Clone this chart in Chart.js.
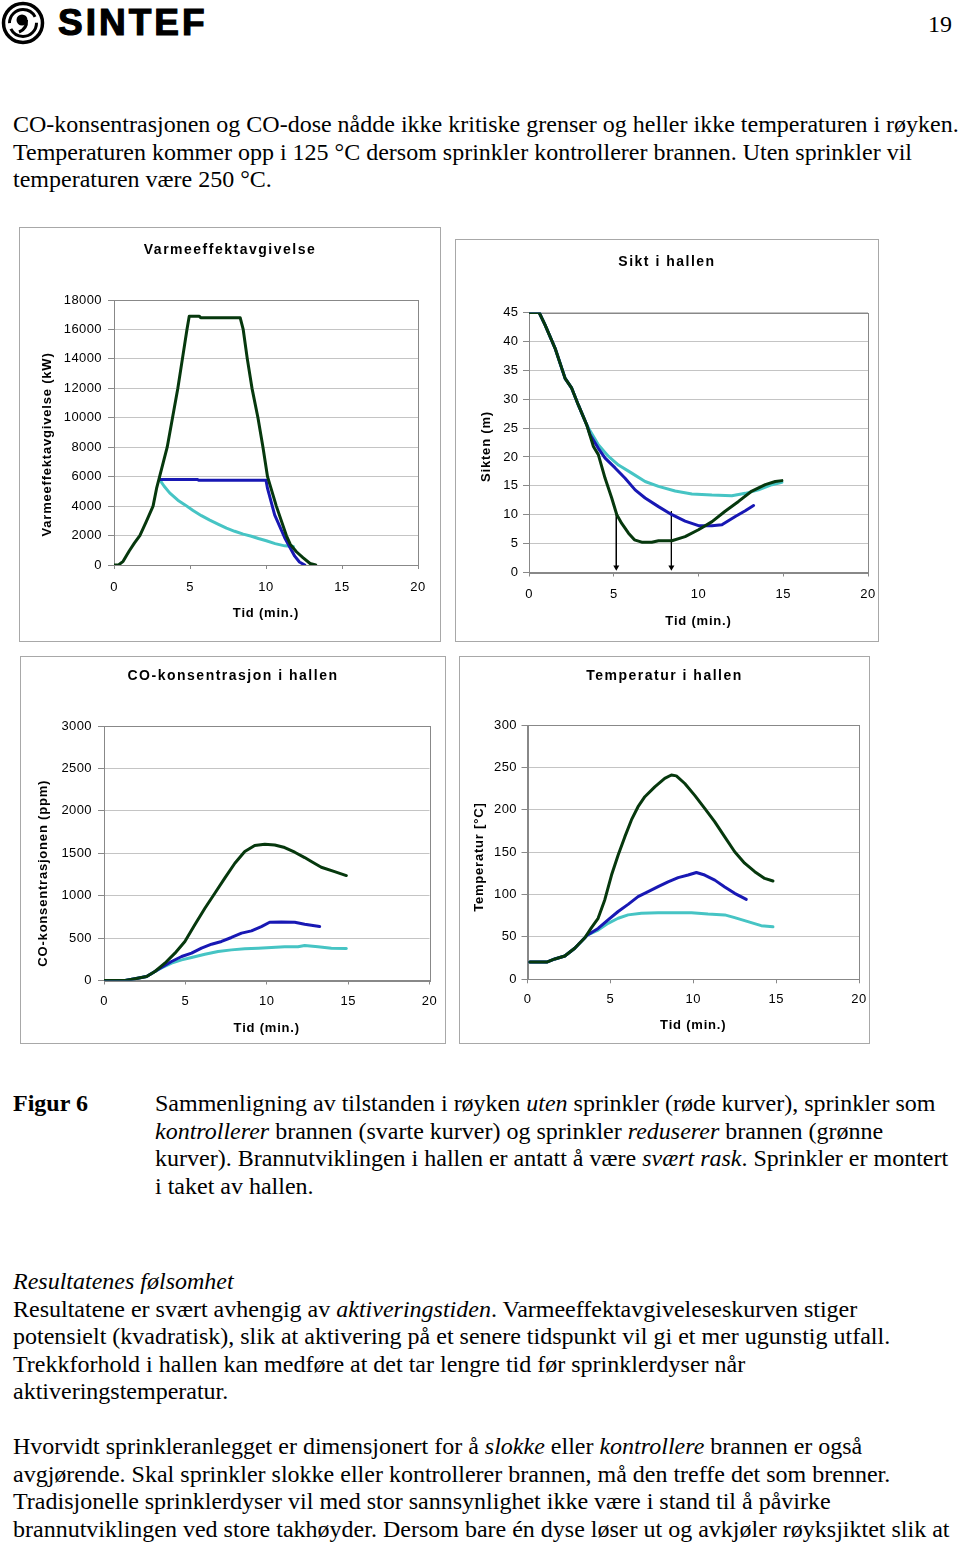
<!DOCTYPE html>
<html lang="no">
<head>
<meta charset="utf-8">
<title>Figur 6 - sprinkler i hallen</title>
<script src="https://cdn.jsdelivr.net/npm/chart.js@4.4.1/dist/chart.umd.min.js"></script>
<style>
  html, body { margin: 0; padding: 0; background: #fff; }
  body { width: 960px; height: 1544px; position: relative; overflow: hidden;
         font-family: "Liberation Serif", "Times New Roman", serif; color: #000; }
  .txt { position: absolute; font-size: 24px; line-height: 27.5px; white-space: nowrap; }
  .boks { position: absolute; border: 1px solid #a8a8a8; box-sizing: border-box; background: #fff; }
  .boks canvas { display: block; }
  #logo svg { position: absolute; left: 0; top: 0; }
  #logo span { position: absolute; left: 58px; top: 4px; font-family: "Liberation Sans", Arial, sans-serif;
               font-weight: bold; font-size: 37px; line-height: 37px; letter-spacing: 3px;
               -webkit-text-stroke: 1.2px #000; }
</style>
</head>
<body>

<div id="logo">
  <svg width="46" height="46" viewBox="0 0 46 46">
    <circle cx="23" cy="23" r="19.5" fill="none" stroke="#000" stroke-width="3.5"/>
    <circle cx="23" cy="23" r="13.5" fill="none" stroke="#000" stroke-width="3" stroke-dasharray="36 6"/>
    <circle cx="22" cy="20" r="5.5" fill="#000"/>
    <path d="M26.5 20 C27 26 24 30 19 32" fill="none" stroke="#000" stroke-width="3"/>
  </svg>
  <span>SINTEF</span>
</div>
<div class="txt" style="left:928px; top:11px;">19</div>

<div class="txt" style="left:13px; top:111px;">
  <div>CO-konsentrasjonen og CO-dose nådde ikke kritiske grenser og heller ikke temperaturen i røyken.</div>
  <div>Temperaturen kommer opp i 125 °C dersom sprinkler kontrollerer brannen. Uten sprinkler vil</div>
  <div>temperaturen være 250 °C.</div>
</div>

<div id="diagrammer"></div>

<div class="txt" style="left:13px; top:1090px; font-weight:bold;">Figur 6</div>
<div class="txt" style="left:155px; top:1090px;">
  <div>Sammenligning av tilstanden i røyken <i>uten</i> sprinkler (røde kurver), sprinkler som</div>
  <div><i>kontrollerer</i> brannen (svarte kurver) og sprinkler <i>reduserer</i> brannen (grønne</div>
  <div>kurver). Brannutviklingen i hallen er antatt å være <i>svært rask</i>. Sprinkler er montert</div>
  <div>i taket av hallen.</div>
</div>

<div class="txt" style="left:13px; top:1268px;">
  <div><i>Resultatenes følsomhet</i></div>
  <div>Resultatene er svært avhengig av <i>aktiveringstiden</i>. Varmeeffektavgiveleseskurven stiger</div>
  <div>potensielt (kvadratisk), slik at aktivering på et senere tidspunkt vil gi et mer ugunstig utfall.</div>
  <div>Trekkforhold i hallen kan medføre at det tar lengre tid før sprinklerdyser når</div>
  <div>aktiveringstemperatur.</div>
  <div>&nbsp;</div>
  <div>Hvorvidt sprinkleranlegget er dimensjonert for å <i>slokke</i> eller <i>kontrollere</i> brannen er også</div>
  <div>avgjørende. Skal sprinkler slokke eller kontrollerer brannen, må den treffe det som brenner.</div>
  <div>Tradisjonelle sprinklerdyser vil med stor sannsynlighet ikke være i stand til å påvirke</div>
  <div>brannutviklingen ved store takhøyder. Dersom bare én dyse løser ut og avkjøler røyksjiktet slik at</div>
</div>

<script>
// ---- data lest av figuren (tid i minutter) ----
const tidTicks = [0, 5, 10, 15, 20];

// Varmeeffektavgivelse (kW)
const varmeTicks = [0, 2000, 4000, 6000, 8000, 10000, 12000, 14000, 16000, 18000];
const varmeUtenT = [0, 0.3, 0.6, 1.0, 1.35, 1.7, 2.1, 2.57, 2.8, 3.0, 3.25, 3.5, 3.85, 4.2, 4.5, 4.8, 4.95, 5.6, 5.7, 8.3, 8.5, 8.77, 9.08, 9.47, 9.8, 10.1, 10.68, 11.34, 11.6, 12.0, 12.43, 12.9, 13.27];
const varmeUtenV = [0, 0, 250, 950, 1500, 2000, 2900, 4000, 5200, 6000, 7000, 8000, 10000, 12000, 14000, 16000, 16900, 16900, 16800, 16800, 16000, 14000, 12000, 10000, 8000, 6000, 4000, 2000, 1400, 900, 500, 100, 0];
const varmeKontrollT = [3.0, 5.5, 5.6, 10.0, 10.1, 10.57, 11.23, 11.89, 12.2, 12.55];
const varmeKontrollV = [5800, 5800, 5750, 5750, 5200, 3400, 1850, 600, 200, 0];
const varmeRedusertT = [3.0, 3.3, 3.66, 4.2, 4.65, 5.2, 5.75, 6.3, 6.84, 7.4, 7.94, 8.5, 9.04, 9.5, 10.02, 10.6, 11.23, 11.8];
const varmeRedusertV = [5800, 5350, 4900, 4400, 4100, 3700, 3350, 3050, 2780, 2500, 2290, 2100, 1950, 1800, 1650, 1450, 1300, 1250];

// Sikt i hallen (m)
const siktTicks = [0, 5, 10, 15, 20, 25, 30, 35, 40, 45];
const siktUtenT = [0, 0.6, 0.94, 1.54, 2.13, 2.52, 2.91, 3.4, 3.8, 4.09, 4.49, 4.88, 5.18, 5.47, 5.87, 6.22, 6.65, 7.24, 7.64, 8.43, 9.21, 10.0, 10.8, 11.57, 12.36, 13.15, 13.94, 14.53, 14.92];
const siktUtenV = [45, 45, 42.9, 38.8, 33.6, 31.9, 29, 25.6, 21.8, 20.4, 16.3, 12.9, 10, 8.5, 6.8, 5.65, 5.25, 5.25, 5.5, 5.5, 6.2, 7.4, 8.8, 10.6, 12.3, 14.1, 15.2, 15.75, 15.9];
const siktKontrollT = [0, 0.6, 0.94, 1.54, 2.13, 2.52, 2.91, 3.4, 3.6, 4.09, 4.49, 5.08, 5.67, 6.26, 6.85, 7.64, 8.43, 9.21, 10.0, 10.79, 11.38, 12.17, 12.76, 13.25];
const siktKontrollV = [45, 45, 42.9, 38.8, 33.6, 31.9, 29, 25.6, 23.9, 21.5, 19.8, 18.1, 16.3, 14.3, 12.9, 11.4, 10.0, 8.9, 8.1, 8.1, 8.25, 9.7, 10.7, 11.6];
const siktRedusertT = [0, 0.6, 0.94, 1.54, 2.13, 2.52, 2.91, 3.4, 3.55, 4.09, 4.69, 5.28, 6.06, 6.85, 7.64, 8.62, 9.61, 10.79, 11.97, 12.76, 13.54, 14.33, 14.92];
const siktRedusertV = [45, 45, 42.9, 38.8, 33.6, 31.9, 29, 25.6, 24.8, 22.1, 20.1, 18.6, 17.2, 15.75, 14.9, 14.1, 13.6, 13.4, 13.3, 13.7, 14.3, 15.2, 15.6];
const siktPilT = [5.15, 8.4];
const siktPilTopp = [10, 10.6];

// CO-konsentrasjon (ppm)
const coTicks = [0, 500, 1000, 1500, 2000, 2500, 3000];
const coUtenT = [0, 1.3, 1.9, 2.62, 3.13, 3.74, 4.36, 4.97, 5.58, 6.2, 6.81, 7.42, 8.04, 8.65, 9.26, 9.88, 10.49, 11.1, 11.72, 12.33, 12.74, 13.35, 14.17, 14.89];
const coUtenV = [0, 0, 20, 47, 106, 204, 322, 460, 656, 852, 1029, 1206, 1382, 1520, 1591, 1606, 1598, 1567, 1512, 1449, 1402, 1335, 1284, 1237];
const coKontrollT = [0, 1.3, 1.9, 2.62, 3.13, 3.5, 4.15, 4.77, 5.38, 5.99, 6.61, 7.22, 7.83, 8.45, 9.06, 9.67, 10.18, 10.9, 11.72, 12.33, 12.84, 13.25];
const coKontrollV = [0, 0, 20, 47, 106, 150, 224, 283, 322, 381, 428, 460, 507, 558, 585, 636, 687, 691, 687, 664, 648, 636];
const coRedusertT = [0, 1.3, 1.9, 2.62, 3.13, 3.5, 4.15, 4.77, 5.38, 6.2, 7.01, 7.83, 8.65, 9.47, 10.29, 11.1, 11.92, 12.33, 13.15, 13.97, 14.89];
const coRedusertV = [0, 0, 20, 47, 106, 145, 204, 243, 271, 310, 342, 361, 373, 381, 389, 397, 397, 412, 397, 381, 377];

// Temperatur (°C)
const tempTicks = [0, 50, 100, 150, 200, 250, 300];
const tempUtenT = [0.14, 1.2, 1.65, 2.25, 2.85, 3.46, 3.86, 4.26, 4.66, 5.07, 5.47, 5.87, 6.27, 6.67, 7.08, 7.68, 8.28, 8.68, 8.98, 9.49, 10.09, 10.69, 11.29, 11.9, 12.5, 13.1, 13.71, 14.31, 14.81];
const tempUtenV = [20.5, 20.5, 24, 27.5, 36.6, 49, 61, 72, 93.6, 123, 146.6, 168, 188, 203.6, 215.4, 227, 237, 241, 240, 231, 217, 201.7, 186, 168, 150.5, 137, 127, 119, 116];
const tempKontrollT = [0.14, 1.2, 1.65, 2.25, 2.85, 3.46, 3.6, 4.26, 4.86, 5.47, 6.07, 6.67, 7.28, 7.88, 8.48, 9.09, 9.69, 10.19, 10.69, 11.3, 11.9, 12.5, 13.2];
const tempKontrollV = [20.5, 20.5, 24, 27.5, 36.6, 49, 52, 60, 70, 80, 88.4, 97.5, 103.4, 109.3, 115, 120, 123, 126, 123, 117, 109, 101.4, 94.3];
const tempRedusertT = [0.14, 1.2, 1.65, 2.25, 2.85, 3.46, 3.6, 4.26, 4.86, 5.47, 6.07, 6.87, 7.88, 8.88, 9.89, 10.89, 11.9, 12.5, 13.3, 14.1, 14.81];
const tempRedusertV = [20.5, 20.5, 24, 27.5, 36.6, 49, 52, 58, 66, 72, 76, 78, 78.6, 78.6, 78.6, 77, 76, 72.7, 68, 63.3, 62];

// ---- farger ----
const UTEN = '#06380d';
const KONTROLL = '#1818b4';
const REDUSERT = '#46c4c4';

Chart.defaults.font.family = "'Liberation Sans', Arial, sans-serif";
Chart.defaults.color = '#000';

function pts(t, v) {
    return t.map(function(x, i) { return {x: x, y: v[i]}; });
}

function serie(t, v, farge, bredde) {
    return {
        data: pts(t, v),
        borderColor: farge,
        borderWidth: bredde,
        pointRadius: 0,
        tension: 0,
        fill: false,
        borderJoinStyle: 'round',
        borderCapStyle: 'round'
    };
}

function pil(x, topp) {
    return {
        data: [{x: x, y: topp}, {x: x, y: 0.9}],
        borderColor: '#000',
        borderWidth: 1,
        pointRadius: [0, 3.5],
        pointStyle: 'triangle',
        rotation: 180,
        pointBackgroundColor: '#000',
        pointBorderColor: '#000',
        pointBorderWidth: 0
    };
}

// Excel-tekst er sperret, letterSpacing settes rundt tegningen
function sperr(obj, navn, px, dy) {
    if (obj['_sp_' + navn]) return;
    obj['_sp_' + navn] = true;
    var orig = obj[navn];
    obj[navn] = function() {
        var ctx = this.ctx;
        ctx.save();
        ctx.letterSpacing = px;
        if (dy) ctx.translate(0, dy);
        orig.apply(this, arguments);
        ctx.restore();
        ctx.letterSpacing = '0px';
    };
}

var sperring = {
    id: 'sperring',
    afterLayout: function(chart, args, opts) {
        if (chart.titleBlock) sperr(chart.titleBlock, 'draw', '1.5px', 0);
        sperr(chart.scales.x, 'drawTitle', '0.8px', 0);
        sperr(chart.scales.y, 'drawTitle', '0.8px', opts.yTitleDy || 0);
        sperr(chart.scales.x, 'drawLabels', '0.4px', 0);
        sperr(chart.scales.y, 'drawLabels', '0.4px', 0);
    }
};

var ramme = {
    id: 'ramme',
    beforeDatasetsDraw: function(chart) {
        var a = chart.chartArea, ctx = chart.ctx;
        ctx.save();
        ctx.strokeStyle = '#888';
        ctx.lineWidth = 1;
        ctx.strokeRect(Math.round(a.left) + 0.5, Math.round(a.top) + 0.5,
                       Math.round(a.right) - Math.round(a.left), Math.round(a.bottom) - Math.round(a.top));
        ctx.restore();
    }
};

function lagDiagram(g, tittel, yTittel, yMax, yTicks, datasett) {
    var boks = document.createElement('div');
    boks.className = 'boks';
    boks.style.left = g.box.x + 'px';
    boks.style.top = g.box.y + 'px';
    boks.style.width = g.box.w + 'px';
    boks.style.height = g.box.h + 'px';
    var canvas = document.createElement('canvas');
    var cw = g.box.w - 2, ch = g.box.h - 2;
    canvas.width = cw;
    canvas.height = ch;
    boks.appendChild(canvas);
    document.getElementById('diagrammer').appendChild(boks);

    var ox = g.box.x + 1, oy = g.box.y + 1;
    var side = ox + cw - g.plot.r;
    var yBredde = g.plot.l - ox - side;
    var xHoyde = oy + ch - g.plot.b;
    var tlh = 16.8, alh = 15.6, tickLh = 15.6, tl = 4;
    var tTop = g.titleY - oy - tlh / 2;
    var tBunn = g.plot.t - oy - tlh - tTop;

    new Chart(canvas.getContext('2d'), {
        type: 'line',
        data: { datasets: datasett },
        plugins: [sperring, ramme],
        options: {
            responsive: false,
            animation: false,
            events: [],
            layout: { padding: { left: side, right: side, top: 0, bottom: 0 } },
            plugins: {
                legend: { display: false },
                tooltip: { enabled: false },
                sperring: { yTitleDy: g.yTitleDy },
                title: {
                    display: true,
                    text: tittel,
                    font: { size: 14, weight: 'bold' },
                    color: '#000',
                    padding: { top: tTop, bottom: tBunn }
                }
            },
            scales: {
                x: {
                    type: 'linear',
                    min: 0,
                    max: 20,
                    afterBuildTicks: function(s) { s.ticks = tidTicks.map(function(v) { return {value: v}; }); },
                    ticks: {
                        maxRotation: 0,
                        autoSkip: false,
                        padding: g.tickY - g.plot.b - tl - tickLh / 2,
                        font: { size: 13 },
                        color: '#000',
                        callback: function(v) { return String(v); }
                    },
                    grid: { drawOnChartArea: false, tickLength: tl, tickColor: '#888' },
                    border: { color: '#888' },
                    title: {
                        display: true,
                        text: 'Tid (min.)',
                        font: { size: 13, weight: 'bold' },
                        color: '#000',
                        padding: { top: 0, bottom: oy + ch - g.xTitleY - alh / 2 }
                    },
                    afterFit: function(s) { s.height = xHoyde; s.paddingLeft = 0; s.paddingRight = 0; }
                },
                y: {
                    type: 'linear',
                    min: 0,
                    max: yMax,
                    afterBuildTicks: function(s) { s.ticks = yTicks.map(function(v) { return {value: v}; }); },
                    ticks: {
                        padding: g.yPad,
                        font: { size: 13 },
                        color: '#000',
                        callback: function(v) { return String(v); }
                    },
                    grid: { color: '#c4c4c4', tickLength: 6, tickColor: '#888' },
                    border: { color: '#888' },
                    title: {
                        display: true,
                        text: yTittel,
                        font: { size: 13, weight: 'bold' },
                        color: '#000',
                        padding: { top: g.yTitleX - (ox + side) - alh / 2, bottom: 0 }
                    },
                    afterFit: function(s) { s.width = yBredde; s.paddingTop = 0; s.paddingBottom = 0; }
                }
            }
        }
    });
}

lagDiagram(
    { box: {x: 19, y: 227, w: 422, h: 415}, plot: {l: 114, r: 418, t: 300, b: 565},
      titleY: 250, tickY: 587, xTitleY: 613, yTitleX: 47, yPad: 6, yTitleDy: 12 },
    'Varmeeffektavgivelse', 'Varmeeffektavgivelse (kW)', 18000, varmeTicks,
    [serie(varmeUtenT, varmeUtenV, UTEN, 3),
     serie(varmeKontrollT, varmeKontrollV, KONTROLL, 3),
     serie(varmeRedusertT, varmeRedusertV, REDUSERT, 3)]
);

lagDiagram(
    { box: {x: 455, y: 239, w: 424, h: 403}, plot: {l: 529, r: 868, t: 312.5, b: 572.5},
      titleY: 262, tickY: 594, xTitleY: 621.5, yTitleX: 486, yPad: 4.5, yTitleDy: 4 },
    'Sikt i hallen', 'Sikten (m)', 45, siktTicks,
    [serie(siktUtenT, siktUtenV, UTEN, 3),
     serie(siktKontrollT, siktKontrollV, KONTROLL, 3),
     serie(siktRedusertT, siktRedusertV, REDUSERT, 3),
     pil(siktPilT[0], siktPilTopp[0]),
     pil(siktPilT[1], siktPilTopp[1])]
);

lagDiagram(
    { box: {x: 20, y: 656, w: 426, h: 388}, plot: {l: 104, r: 429.5, t: 726, b: 980.5},
      titleY: 676.5, tickY: 1001.5, xTitleY: 1028, yTitleX: 43.5, yPad: 6, yTitleDy: 20 },
    'CO-konsentrasjon i hallen', 'CO-konsentrasjonen (ppm)', 3000, coTicks,
    [serie(coUtenT, coUtenV, UTEN, 3),
     serie(coKontrollT, coKontrollV, KONTROLL, 3),
     serie(coRedusertT, coRedusertV, REDUSERT, 3)]
);

lagDiagram(
    { box: {x: 459, y: 656, w: 411, h: 388}, plot: {l: 527.5, r: 859, t: 725, b: 979.3},
      titleY: 676.5, tickY: 999, xTitleY: 1025, yTitleX: 479.5, yPad: 4.5, yTitleDy: 5 },
    'Temperatur i hallen', 'Temperatur [°C]', 300, tempTicks,
    [serie(tempUtenT, tempUtenV, UTEN, 3),
     serie(tempKontrollT, tempKontrollV, KONTROLL, 3),
     serie(tempRedusertT, tempRedusertV, REDUSERT, 3)]
);
</script>
</body>
</html>
